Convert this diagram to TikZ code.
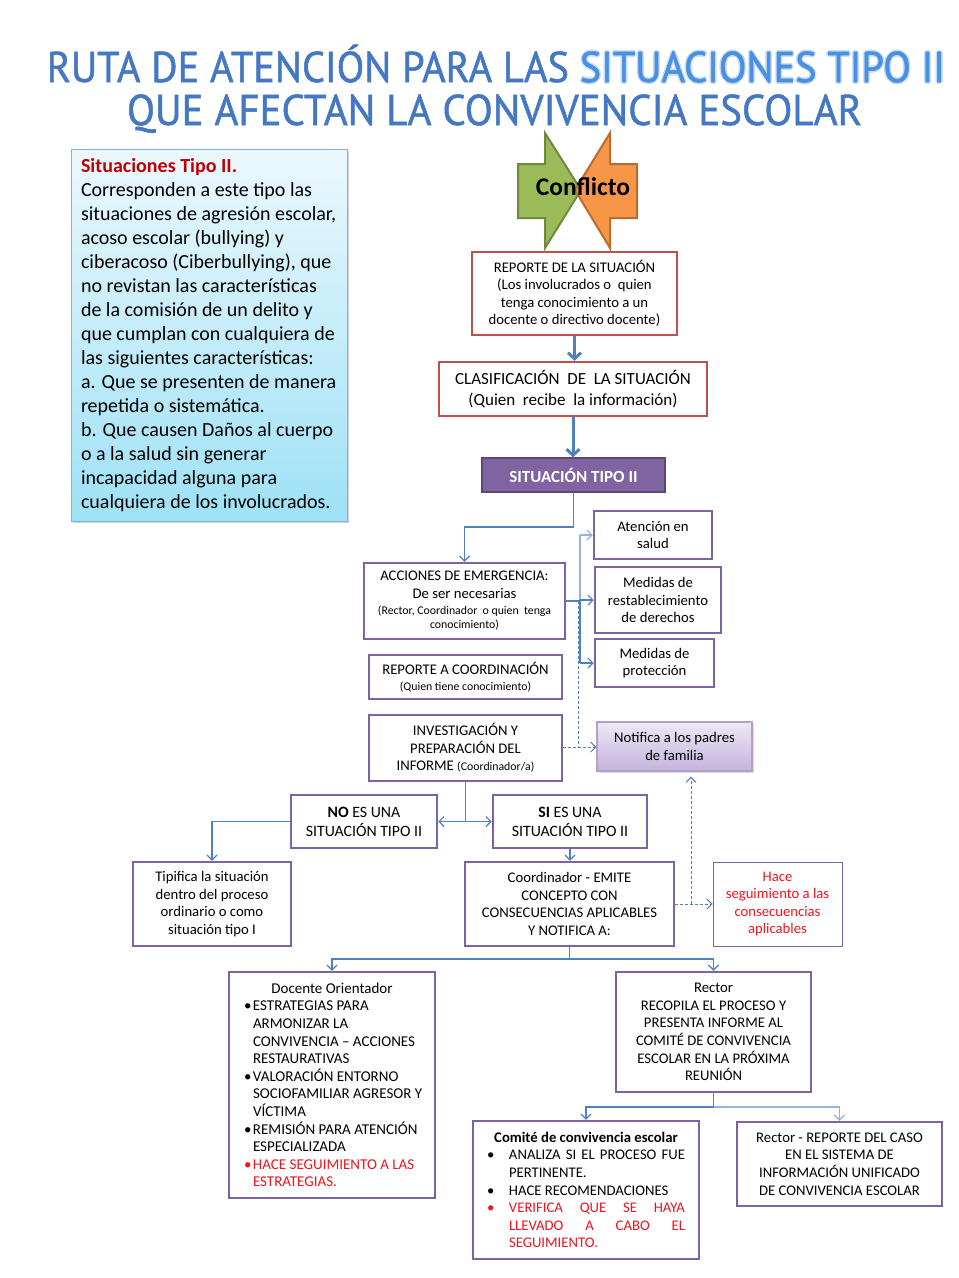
\documentclass[tikz,border=0pt]{standalone}
\usepackage{fontspec}
\setmainfont{Carlito}
\newfontfamily\titlefont[FakeBold=1.2]{PT Sans}
\usetikzlibrary{arrows.meta,shadows}
\setlength\parindent{0pt}
\definecolor{bpurple}{HTML}{7F63A1}
\definecolor{bred}{HTML}{C0504D}
\definecolor{cblue}{HTML}{4F81BD}
\definecolor{dred}{HTML}{C00000}
\definecolor{rtxt}{HTML}{F0141E}
\definecolor{tblue}{HTML}{4478C2}
\definecolor{sblue}{HTML}{4A90E2}
\definecolor{glowc}{HTML}{C4DBF4}
\definecolor{gfill}{HTML}{9BBB59}
\definecolor{gline}{HTML}{71893F}
\definecolor{ofill}{HTML}{F79646}
\definecolor{oline}{HTML}{B66D31}
\definecolor{sitfill}{HTML}{8064A2}
\definecolor{sitline}{HTML}{5C4776}
\definecolor{infotop}{HTML}{EBF8FD}
\definecolor{infobot}{HTML}{9EE1F6}
\definecolor{infoline}{HTML}{86B2D6}
\definecolor{nottop}{HTML}{EEE8F6}
\definecolor{notbot}{HTML}{C4B3DD}
\definecolor{notline}{HTML}{B3A2C7}
\newcommand\fs[2]{\fontsize{#1}{#2}\selectfont}
\newcommand\sm{\fs{11.8}{13}}
\newsavebox\ttlbox
\newcommand\glowit[1]{\leavevmode\rlap{\textcolor{glowc}{\kern-1.6pt#1}}\rlap{\textcolor{glowc}{\kern1.6pt#1}}\rlap{\textcolor{glowc}{\raisebox{1.6pt}{#1}}}\rlap{\textcolor{glowc}{\raisebox{-1.6pt}{#1}}}\textcolor{sblue}{#1}}
\newcommand\bul[1]{\hspace*{6pt}\makebox[9pt][l]{•}#1}
\newcommand\cont{\hspace*{15pt}}
\newcommand\cbul{\hspace*{3pt}\makebox[22pt][l]{•}}
\newcommand\ccont{\hspace*{25pt}}
\tikzset{
  sz/.style 2 args={minimum width=#1pt, minimum height=#2pt},
  pbox/.style={draw=bpurple, line width=2.5pt, fill=white, align=center, inner sep=0pt, font=\fs{14.7}{17.5}},
  rbox/.style={draw=bred, line width=2.5pt, fill=white, align=center, inner sep=0pt},
  conn/.style={draw=cblue, line width=1.1pt},
  carr/.style={conn, -{Straight Barb[length=5pt,width=10pt]}},
  darr/.style={conn, {Straight Barb[length=5pt,width=10pt]}-{Straight Barb[length=5pt,width=10pt]}},
  dconn/.style={draw=cblue, line width=1pt, dash pattern=on 3pt off 2pt},
  darrow/.style={dconn, -{Straight Barb[length=5pt,width=10pt]}},
  tarr/.style={draw=cblue, line width=3pt, -{Straight Barb[length=6pt,width=13pt]}},
}
\begin{document}
\begin{tikzpicture}[x=1pt,y=-1pt]
\path[use as bounding box, fill=white] (0,0) rectangle (959,1278);

% title
\node[inner sep=0pt, anchor=base, text=tblue] (title1) at (496,82)
  {\sbox\ttlbox{\titlefont\fs{43}{43}RUTA DE ATENCIÓN PARA LAS \glowit{SITUACIONES TIPO II}}\resizebox{898pt}{\ht\ttlbox}{\usebox\ttlbox}};
\node[inner sep=0pt, anchor=base, text=tblue] (title2) at (494.5,125)
  {\sbox\ttlbox{\titlefont\fs{43}{43}QUE AFECTAN LA CONVIVENCIA ESCOLAR}\resizebox{735pt}{\ht\ttlbox}{\usebox\ttlbox}};

% info box
\node[draw=infoline, line width=1pt, top color=infotop, bottom color=infobot,
      drop shadow={opacity=0.35}, sz={276}{372}, text width=256pt, align=flush left,
      inner sep=0pt, font=\fs{20}{24}] (info) at (209,335)
{\textcolor{dred}{\bfseries Situaciones Tipo II.}\\
Corresponden a este tipo las\\
situaciones de agresión escolar,\\
acoso escolar (bullying) y\\
ciberacoso (Ciberbullying), que\\
no revistan las características\\
de la comisión de un delito y\\
que cumplan con cualquiera de\\
las siguientes características:\\
a. Que se presenten de manera\\
repetida o sistemática.\\
b. Que causen Daños al cuerpo\\
o a la salud sin generar\\
incapacidad alguna para\\
cualquiera de los involucrados.};

% conflict arrows
\draw[line width=2pt, draw=gline, fill=gfill, line join=miter]
  (518,164) -- (545,164) -- (545,133) -- (581,190) -- (545,248) -- (545,218) -- (518,218) -- cycle;
\draw[line width=2pt, draw=oline, fill=ofill, line join=miter]
  (637,164) -- (610,164) -- (610,133) -- (575,190) -- (610,248) -- (610,218) -- (637,218) -- cycle;
\node[font=\bfseries\fs{25.5}{26}] (confl) at (583,187) {Conflicto};

% main boxes
\node[rbox, sz={205}{83}, font=\fs{14.7}{17.5}] (rep) at (574.5,293.5)
  {REPORTE DE LA SITUACIÓN\\(Los involucrados o\ \ quien\\tenga conocimiento a un\\docente o directivo docente)};
\node[rbox, sz={268}{54}, font=\fs{17}{21}] (clas) at (573,389)
  {CLASIFICACIÓN\ \ DE\ \ LA SITUACIÓN\\(Quien\ \ recibe\ \ la información)};
\node[draw=sitline, line width=1.5pt, fill=sitfill, text=white, inner sep=0pt,
      font=\bfseries\fs{17}{19}, sz={183}{34}] (sit) at (573.5,475) {SITUACIÓN TIPO II};

\node[pbox, sz={201}{76}] (acc) at (464.5,601)
  {ACCIONES DE EMERGENCIA:\\De ser necesarias\\[-1.5pt]{\sm(Rector, Coordinador\ \ o quien\ \ tenga}\\[-3pt]{\sm conocimiento)}};
\node[pbox, sz={193}{44}] (repc) at (465.5,677)
  {REPORTE A COORDINACIÓN\\[-2pt]{\sm(Quien tiene conocimiento)}};
\node[pbox, sz={193}{66}] (inv) at (465.5,748)
  {INVESTIGACIÓN Y\\PREPARACIÓN DEL\\INFORME {\sm(Coordinador/a)}};

\node[pbox, sz={118}{48}] (aten) at (653,535) {Atención en\\salud};
\node[pbox, sz={126}{66}] (med) at (658,600) {Medidas de\\restablecimiento\\de derechos};
\node[pbox, sz={119}{48}] (prot) at (654.5,663) {Medidas de\\protección};
\node[draw=notline, line width=1.2pt, top color=nottop, bottom color=notbot,
      drop shadow={opacity=0.3}, sz={155}{49}, align=center, inner sep=0pt,
      font=\fs{14.7}{17.5}] (notif) at (674.5,746.5) {Notifica a los padres\\de familia};

\node[pbox, sz={146}{53}, font=\fs{15.8}{19}] (no) at (364,821.5)
  {\textbf{NO} ES UNA\\SITUACIÓN TIPO II};
\node[pbox, sz={154}{53}, font=\fs{15.8}{19}] (si) at (570,821.5)
  {\textbf{SI} ES UNA\\SITUACIÓN TIPO II};

\node[pbox, sz={158}{84}] (tip) at (212,904)
  {Tipifica la situación\\dentro del proceso\\ordinario o como\\situación tipo I};
\node[pbox, sz={209}{84}] (coord) at (569.5,904)
  {Coordinador - EMITE\\CONCEPTO CON\\CONSECUENCIAS APLICABLES\\Y NOTIFICA A:};
\node[draw=bpurple, line width=0.8pt, fill=white, text=rtxt, align=center, inner sep=0pt,
      font=\fs{14.7}{17.5}, sz={129}{84}] (hace) at (777.5,904)
  {Hace\\seguimiento a las\\consecuencias\\aplicables};

\node[pbox, sz={206}{226}, text width=188pt, align=flush left, font=\fs{15}{17.6}] (doc) at (332,1085)
{{\centering Docente Orientador\par}
\bul{ESTRATEGIAS PARA}\\\cont ARMONIZAR LA\\\cont CONVIVENCIA – ACCIONES\\\cont RESTAURATIVAS\\
\bul{VALORACIÓN ENTORNO}\\\cont SOCIOFAMILIAR AGRESOR Y\\\cont VÍCTIMA\\
\bul{REMISIÓN PARA ATENCIÓN}\\\cont ESPECIALIZADA\\
\textcolor{rtxt}{\bul{HACE SEGUIMIENTO A LAS}}\\\cont\textcolor{rtxt}{ESTRATEGIAS.}};

\node[pbox, sz={195}{120}, font=\fs{14.7}{17.6}] (rect) at (713.5,1032)
  {Rector\\RECOPILA EL PROCESO Y\\PRESENTA INFORME AL\\COMITÉ DE CONVIVENCIA\\ESCOLAR EN LA PRÓXIMA\\REUNIÓN};

\node[pbox, sz={226}{138}, text width=204pt, align=flush left, font=\fs{14.7}{17.6}] (com) at (586,1190)
{{\centering\textbf{Comité de convivencia escolar}\par}
\cbul\hbox to 176pt{ANALIZA\hfill SI\hfill EL\hfill PROCESO\hfill FUE}\\\ccont PERTINENTE.\\
\cbul HACE RECOMENDACIONES\\
\textcolor{rtxt}{\cbul\hbox to 176pt{VERIFICA\hfill QUE\hfill SE\hfill HAYA}}\\\ccont\textcolor{rtxt}{\hbox to 176pt{LLEVADO\hfill A\hfill CABO\hfill EL}}\\\ccont\textcolor{rtxt}{SEGUIMIENTO.}};

\node[pbox, sz={205}{84}, font=\fs{14.7}{17.6}] (rrep) at (839.5,1164)
  {Rector - REPORTE DEL CASO\\EN EL SISTEMA DE\\INFORMACIÓN UNIFICADO\\DE CONVIVENCIA ESCOLAR};

% connectors
\draw[tarr] (rep.south) -- (rep.south |- clas.north);
\draw[tarr] (clas.south) -- (clas.south |- sit.north);

\coordinate (j1) at (573.5,527);
\draw[carr] (sit.south) -- (j1) -| (acc.north);

\coordinate (vx) at (580,600);
\draw[conn] (acc.east) -- (acc.east -| vx);
\draw[conn, draw=cblue!60] (aten.west -| vx) -- (med.west -| vx);
\draw[conn] (med.west -| vx) -- (prot.west -| vx);
\draw[carr, draw=cblue!60] (aten.west -| vx) -- (aten.west);
\draw[carr] (med.west -| vx) -- (med.west);
\draw[carr] (prot.west -| vx) -- (prot.west);

\coordinate (vd) at (578,747);
\draw[dconn] (vd |- acc.east) -- (vd);
\draw[darrow] (inv.east |- vd) -- (notif.west |- vd);

\coordinate (j2) at (465.5,822);
\draw[conn] (inv.south) -- (j2);
\draw[darr] (no.east) -- (si.west);
\draw[carr] (no.west) -| (tip.north);
\draw[carr] (si.south) -- (si.south |- coord.north);

\coordinate (dj) at (691,904);
\draw[darrow] (coord.east) -- (hace.west);
\draw[darrow, shorten >=5pt] (dj) -- (dj |- notif.south);

\coordinate (h1) at (569.5,959);
\draw[conn] (coord.south) -- (h1);
\draw[carr] (h1) -| (doc.north);
\draw[carr] (h1) -| (rect.north);

\coordinate (h2) at (713.5,1107);
\draw[conn] (rect.south) -- (h2);
\draw[carr] (h2) -| (com.north);
\draw[carr, draw=cblue!60] (h2) -| (rrep.north);
\end{tikzpicture}
\end{document}
